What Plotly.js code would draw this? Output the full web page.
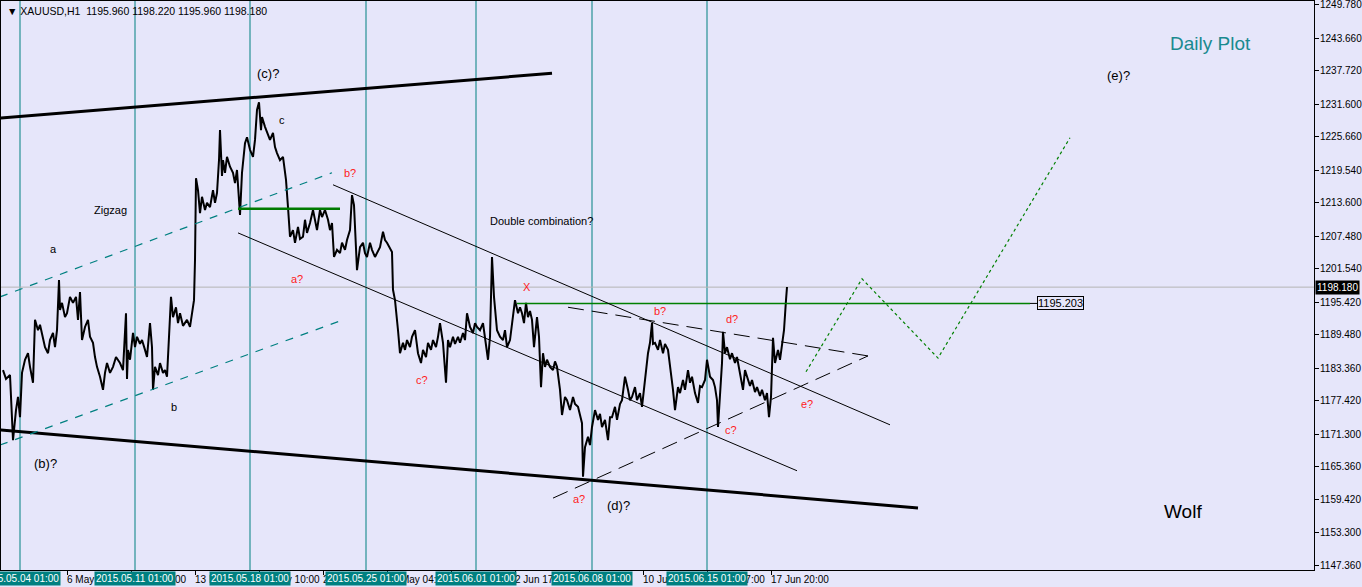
<!DOCTYPE html>
<html>
<head>
<meta charset="utf-8">
<script src="https://cdn.plot.ly/plotly-3.0.1.min.js"></script>
<style>
  html, body { margin: 0; padding: 0; background: #E6E6FA; overflow: hidden; }
  #chart { width: 1362px; height: 587px; }
</style>
</head>
<body>
<div id="chart"></div>
<script>
// XAUUSD H1 — bar number along the chart and the traced price path
const bars = [3,6,10,13,16,18,20,22,25,28,30,33,35,38,40,43,45,48,50,53,55,57,59,60,62,65,67,70,73,76,78,80,82,85,88,90,93,95,97,100,103,105,107,110,113,116,120,123,126,127,128,130,133,135,137,140,142,145,147,150,152,153,155,158,160,163,165,167,168,171,173,176,178,180,183,187,190,192,194,195,196,198,200,202,205,207,210,213,215,217,219,220,222,223,225,227,230,233,235,237,240,242,245,247,250,253,255,257,259,261,262,265,267,270,273,275,277,280,283,286,288,290,293,295,298,300,303,305,307,310,313,315,317,320,322,325,328,330,332,334,337,340,342,345,347,350,352,354,356,357,360,363,365,367,370,372,375,377,380,383,385,387,390,392,393,395,398,400,403,405,407,410,412,415,418,421,423,426,428,431,433,436,438,440,443,446,448,450,453,455,458,460,463,465,467,470,473,475,477,480,483,486,488,490,492,494,497,500,503,505,507,510,513,515,518,520,522,524,526,528,530,532,534,537,539,541,543,545,547,550,553,555,557,560,562,565,567,570,573,575,578,580,582,583,585,588,590,592,595,598,600,602,605,608,610,612,615,617,620,622,625,628,630,632,635,637,640,642,645,648,650,652,653,655,658,660,663,665,668,671,673,675,678,680,683,685,688,690,692,695,698,700,702,705,707,710,713,715,717,718,720,722,723,725,727,730,732,735,737,740,743,745,747,750,752,755,757,760,762,765,767,769,771,773,775,778,780,782,784,786,787];
const prices = [1183.0,1181.4,1182.1,1170.2,1175.7,1178.1,1174.4,1182.5,1184.9,1186.1,1183.6,1180.7,1192.2,1190.3,1191.3,1188.5,1187.2,1186.1,1188.5,1189.8,1187.2,1190.3,1199.5,1194.0,1195.3,1192.7,1193.4,1196.4,1195.3,1196.4,1192.2,1197.3,1188.5,1190.9,1192.2,1189.1,1188.0,1185.4,1183.6,1181.8,1179.4,1182.5,1184.3,1182.5,1183.6,1185.4,1184.3,1183.0,1193.4,1181.4,1186.7,1184.9,1189.8,1187.2,1189.1,1187.8,1188.5,1186.7,1185.4,1191.6,1187.2,1179.4,1183.6,1182.1,1184.3,1182.5,1183.0,1181.8,1184.9,1196.4,1192.7,1194.5,1191.6,1193.4,1191.1,1192.2,1190.9,1193.4,1195.8,1203.1,1218.1,1215.9,1211.7,1214.7,1212.3,1213.6,1212.8,1215.9,1213.6,1215.4,1221.4,1226.9,1218.5,1221.4,1219.1,1222.0,1220.2,1219.1,1217.2,1219.6,1211.4,1219.1,1224.5,1225.6,1223.3,1222.0,1225.1,1230.6,1232.0,1226.9,1229.3,1227.5,1226.4,1225.1,1226.4,1223.8,1222.7,1221.4,1222.0,1217.8,1212.8,1207.4,1208.6,1206.3,1209.2,1207.0,1207.4,1210.5,1208.1,1209.9,1212.3,1210.5,1208.6,1212.3,1211.0,1212.3,1210.5,1208.6,1209.9,1203.7,1205.0,1204.4,1206.3,1205.0,1206.8,1208.6,1215.0,1213.2,1206.3,1201.3,1205.5,1206.3,1204.4,1203.7,1206.3,1205.0,1203.7,1204.4,1205.5,1208.3,1206.8,1206.3,1205.3,1204.6,1197.7,1195.8,1190.3,1186.1,1188.0,1186.7,1188.5,1187.2,1189.1,1190.3,1186.1,1184.3,1186.7,1185.4,1188.0,1186.7,1188.5,1187.2,1189.1,1191.6,1188.0,1180.7,1188.5,1187.2,1189.1,1187.8,1189.1,1188.0,1189.8,1188.5,1193.4,1190.9,1189.8,1191.6,1190.9,1190.3,1191.6,1188.0,1184.9,1189.1,1203.7,1196.4,1190.3,1189.1,1188.5,1190.3,1187.2,1188.5,1193.4,1195.8,1193.4,1194.5,1193.4,1191.6,1195.3,1192.7,1193.8,1192.2,1187.2,1192.7,1189.1,1179.9,1186.1,1183.6,1184.9,1183.6,1183.0,1184.6,1183.6,1179.4,1174.8,1178.1,1177.5,1175.7,1178.1,1176.8,1176.3,1175.0,1173.3,1163.5,1168.9,1170.8,1169.3,1172.6,1175.7,1173.9,1175.0,1172.6,1173.9,1170.2,1174.4,1174.4,1176.3,1173.9,1176.8,1177.5,1181.8,1179.4,1177.5,1178.1,1179.9,1177.5,1178.8,1176.3,1181.8,1186.1,1188.0,1191.6,1187.8,1188.0,1186.7,1188.5,1186.1,1187.8,1186.7,1182.5,1179.4,1175.7,1179.9,1178.8,1181.2,1179.4,1183.0,1180.7,1181.8,1178.8,1177.0,1180.1,1179.9,1181.2,1184.9,1181.8,1181.2,1179.9,1177.5,1172.6,1178.1,1184.3,1190.0,1186.1,1187.2,1185.0,1186.1,1184.3,1185.4,1182.5,1179.4,1183.0,1181.8,1180.1,1181.2,1179.0,1179.9,1178.3,1179.4,1177.5,1178.8,1174.4,1178.1,1188.9,1184.3,1186.7,1184.9,1188.0,1190.3,1195.8,1198.2];

const lastPrice = 1198.18;
const targetLevel = 1195.203;

// Price scale
const priceTicks = [1249.78,1243.66,1237.72,1231.60,1225.66,1219.54,1213.60,1207.48,1201.54,1195.42,1189.48,1183.36,1177.42,1171.30,1165.36,1159.42,1153.30,1147.36];

// Time scale: regular ticks and the weekly period separators
const timeTickBars = [67,131,195,259,323,387,451,515,579,643,707,771];
const timeTickText = ['6 May 00:00','8 May 16:00','13 May 14:00','18 May 10:00','21 May 02:00','26 May 04:00','28 May 12:00','2 Jun 17:00','5 Jun 01:00','10 Jun 09:00','12 Jun 17:00','17 Jun 20:00'];
const weekBars = [20,135,250,366,476,592,707];
const weekText = ['2015.05.04 01:00','2015.05.11 01:00','2015.05.18 01:00','2015.05.25 01:00','2015.06.01 01:00','2015.06.08 01:00','2015.06.15 01:00'];

// Analysis objects (bar, price endpoints)
const channelTop    = [[0,1229.1],[552,1237.3]];
const channelBottom = [[0,1172.05],[918,1157.8]];
const dashUpper     = [[0,1196.4],[332,1219.1]];
const dashLower     = [[0,1169.3],[343,1192.2]];
const zzLevel       = [[238,1212.5],[340,1212.5]];
const targetLine    = [[517,targetLevel],[1030,targetLevel]];
const downLower     = [[238,1208.1],[797,1164.6]];
const downUpper     = [[333,1216.9],[890,1173.0]];
const triUpper      = [[568,1194.5],[868,1185.6]];
const triLower      = [[553,1159.6],[868,1185.6]];
const projBars   = [806,862,938,1070];
const projPrices = [1182.7,1199.7,1185.2,1225.5];

const FONT = 'Liberation Sans, Arial, sans-serif';
const TEAL = '#008080';
const RED = '#FF1A1A';

function seg(p, color, width, dash) {
  return {type:'line', xref:'x', yref:'y', x0:p[0][0], y0:p[0][1], x1:p[1][0], y1:p[1][1],
          line:{color:color, width:width, dash:dash || 'solid'}};
}

const shapes = [];
weekBars.forEach(b => shapes.push({type:'line', xref:'x', yref:'paper', x0:b, x1:b, y0:0, y1:1,
  layer:'below', line:{color:TEAL, width:1}}));
shapes.push({type:'line', xref:'paper', yref:'y', x0:0, x1:1, y0:lastPrice, y1:lastPrice,
  layer:'below', line:{color:'#B4B4B4', width:1}});
shapes.push(seg(channelTop, '#000', 3));
shapes.push(seg(channelBottom, '#000', 3));
shapes.push(seg(dashUpper, TEAL, 1.2, '8px,8px'));
shapes.push(seg(dashLower, TEAL, 1.2, '8px,8px'));
shapes.push(seg(zzLevel, '#007A00', 2.5));
shapes.push(seg(targetLine, '#008000', 1.5));
shapes.push(seg([[1030,targetLevel],[1037,targetLevel]], '#000', 1));
shapes.push(seg(downLower, '#000', 1));
shapes.push(seg(downUpper, '#000', 1));
shapes.push(seg(triUpper, '#000', 1, '16px,8px'));
shapes.push(seg(triLower, '#000', 1, '16px,8px'));

function label(x, y, text, color, size) {
  return {x:x, y:y, xref:'x', yref:'y', text:text, showarrow:false,
          font:{family:FONT, size:size || 11, color:color || '#000'}};
}

const annotations = [
  label(268,1237.2,'(c)?','#000',13),
  label(282,1228.7,'c','#000',11),
  label(110,1212.3,'Zigzag','#000',11),
  label(53,1205.2,'a','#000',11),
  label(174,1176.3,'b','#000',11),
  label(45,1166.0,'(b)?','#000',13),
  label(350,1219.1,'b?',RED,11),
  label(297,1199.7,'a?',RED,11),
  label(541,1210.3,'Double combination?','#000',11),
  label(527,1198.2,'X',RED,11),
  label(422,1181.2,'c?',RED,11),
  label(660,1193.8,'b?',RED,11),
  label(732,1192.4,'d?',RED,11),
  label(731,1172.1,'c?',RED,11),
  label(807,1176.8,'e?',RED,11),
  label(579,1159.4,'a?',RED,11),
  label(618,1158.3,'(d)?','#000',13),
  label(1118,1236.8,'(e)?','#000',13),
  label(1210,1242.8,'Daily Plot','#1A8A8F',19),
  label(1183,1157.1,'Wolf','#000',19),
  {x:1037, y:targetLevel, xref:'x', yref:'y', xanchor:'left', text:targetLevel.toFixed(3), showarrow:false,
   bgcolor:'#E6E6FA', bordercolor:'#000', borderwidth:1, borderpad:0,
   font:{family:FONT, size:11, color:'#000'}},
  {x:0, y:1, xref:'paper', yref:'paper', xanchor:'left', yanchor:'top', xshift:4, yshift:-2,
   text:'▼ XAUUSD,H1  1195.960 1198.220 1195.960 1198.180', showarrow:false,
   font:{family:FONT, size:10.5, color:'#000'}}
];
// Price labels on the right scale
priceTicks.forEach(v => annotations.push({x:1, y:v, xref:'paper', yref:'y', xanchor:'left', yanchor:'middle',
  xshift:4, text:v.toFixed(3), showarrow:false, font:{family:FONT, size:10, color:'#000'}}));
annotations.push({x:1, y:lastPrice, xref:'paper', yref:'y', xanchor:'left', text:lastPrice.toFixed(3), showarrow:false,
  xshift:1, bgcolor:'#000', borderpad:1, font:{family:FONT, size:10, color:'#FFF'}});
// Time labels and the weekly separator captions drawn over them
timeTickBars.forEach((b, i) => annotations.push({x:b, y:0, xref:'x', yref:'paper', xanchor:'left', yanchor:'top',
  xshift:-2, yshift:-2, text:timeTickText[i], showarrow:false, font:{family:FONT, size:10, color:'#000'}}));
weekBars.forEach((b, i) => annotations.push({x:b, y:0, xref:'x', yref:'paper', xanchor:'center', yanchor:'top',
  yshift:-1, text:weekText[i], showarrow:false, bgcolor:TEAL, borderpad:1,
  font:{family:FONT, size:10, color:'#FFF'}}));

const traces = [
  {x:bars, y:prices, type:'scatter', mode:'lines', line:{color:'#000', width:2}, hoverinfo:'skip'},
  {x:projBars, y:projPrices, type:'scatter', mode:'lines', line:{color:'#008000', width:1.2, dash:'dot'}, hoverinfo:'skip'}
];

const layout = {
  width:1362, height:587,
  margin:{l:1, r:48, t:1, b:17, pad:0},
  paper_bgcolor:'#E6E6FA', plot_bgcolor:'#E6E6FA',
  showlegend:false,
  xaxis:{range:[1,1314], showgrid:false, zeroline:false, showline:true, mirror:true, linecolor:'#000', linewidth:1,
         tickmode:'array', tickvals:timeTickBars, ticktext:timeTickBars.map(() => ''), ticks:'outside', ticklen:4,
         tickcolor:'#000', showticklabels:false, fixedrange:true},
  yaxis:{range:[1146.45,1250.51], side:'right', showgrid:false, zeroline:false, showline:true, mirror:true,
         linecolor:'#000', linewidth:1, tickmode:'array', tickvals:priceTicks,
         ticks:'outside', ticklen:4, tickcolor:'#000', showticklabels:false, fixedrange:true},
  shapes:shapes, annotations:annotations
};

Plotly.newPlot('chart', traces, layout, {staticPlot:true, displayModeBar:false});
</script>
</body>
</html>
